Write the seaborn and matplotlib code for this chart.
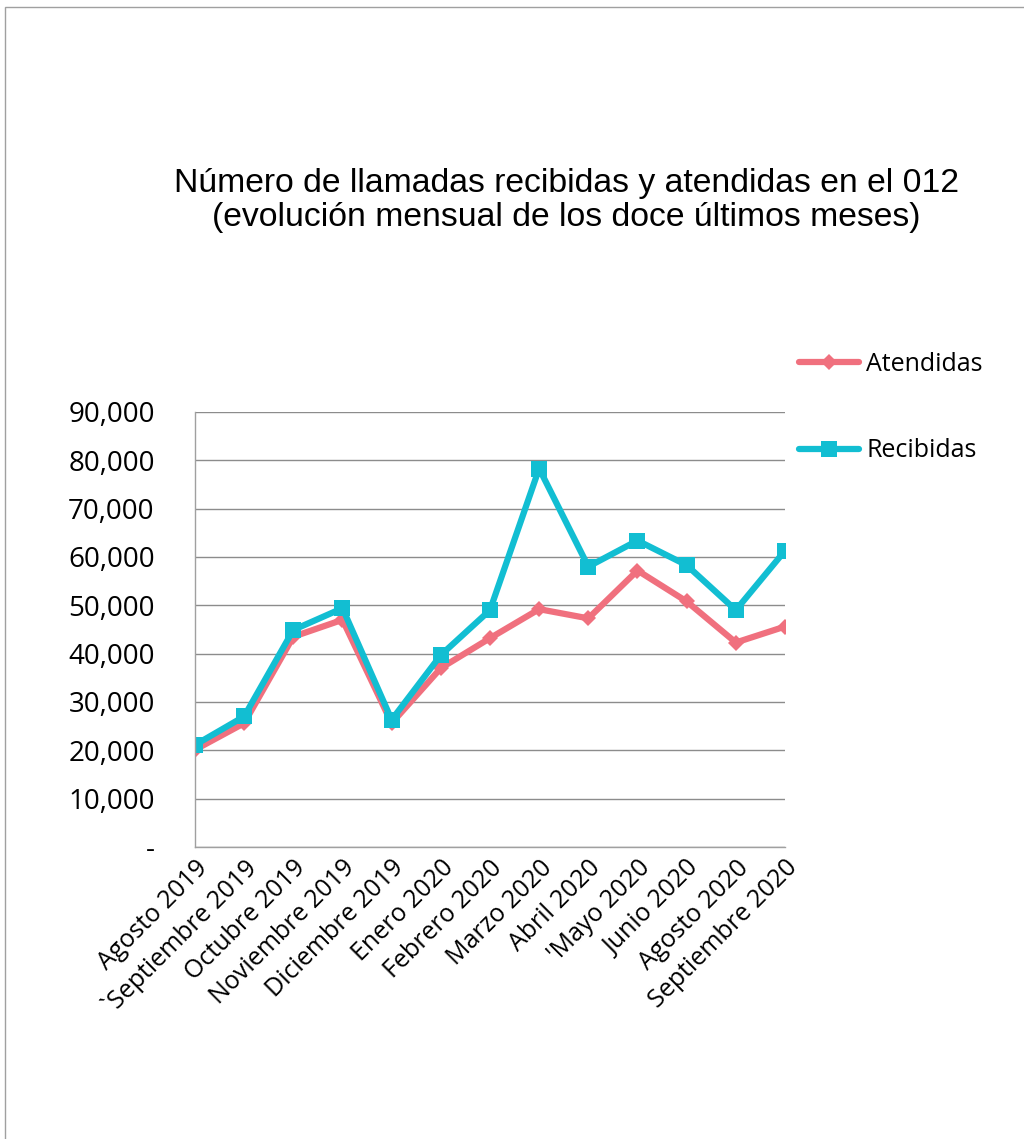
import pandas as pd
import numpy as np
import matplotlib.pyplot as plt
import seaborn as sns
from matplotlib.patches import Rectangle
from matplotlib.lines import Line2D

meses = ["Agosto 2019", "`Septiembre 2019", "Octubre 2019", "Noviembre 2019",
         "Diciembre 2019", "Enero 2020", "Febrero 2020", "Marzo 2020",
         "Abril 2020", "'Mayo 2020", "Junio 2020", "Agosto 2020", "Septiembre 2020"]
atendidas = [20100, 25600, 43500, 47000, 25600, 37000, 43200, 49200,
             47300, 57200, 50800, 42300, 45600]
recibidas = [21100, 27000, 44900, 49400, 26300, 39700, 49000, 78300,
             58000, 63400, 58300, 49000, 61300]

df = pd.DataFrame({
    "idx": list(range(len(meses))) * 2,
    "valor": atendidas + recibidas,
    "serie": ["Atendidas"] * len(meses) + ["Recibidas"] * len(meses),
})

sns.set_theme(style="white")
plt.rcParams['font.family'] = ['Open Sans', 'DejaVu Sans']
plt.rcParams['text.color'] = 'black'
plt.rcParams['xtick.color'] = 'black'
plt.rcParams['ytick.color'] = 'black'

fig = plt.figure(figsize=(10.24, 11.39), dpi=100)
ax = fig.add_axes([0.1904, 0.2564, 0.7666 - 0.1904, 0.6383 - 0.2564])

colores = {"Atendidas": "#F0707E", "Recibidas": "#12BED2"}
sns.lineplot(data=df, x="idx", y="valor", hue="serie", style="serie",
             markers={"Atendidas": "D", "Recibidas": "s"}, dashes=False,
             palette=colores, linewidth=4.5, markeredgewidth=0,
             sort=False, ax=ax, legend=False)
# diamond smaller than the square
for line, ms in zip(ax.lines, [8.5, 11.5]):
    line.set_markersize(ms)

ax.set_xlim(0, len(meses) - 1)
ax.set_ylim(0, 90000)
ax.set_yticks(np.arange(0, 90001, 10000))
ax.set_yticklabels(["-"] + [f"{v:,}" for v in range(10000, 90001, 10000)], fontsize=20)
ax.set_xticks(range(len(meses)))
ax.set_xticklabels(meses, rotation=45, ha="right", rotation_mode="anchor", fontsize=18)
ax.tick_params(axis="y", length=0, pad=29)
ax.tick_params(axis="x", length=0, pad=6)
ax.set_xlabel("")
ax.set_ylabel("")
ax.yaxis.grid(True, color="#8c8c8c", linewidth=1)
ax.xaxis.grid(False)
for s in ["top", "right"]:
    ax.spines[s].set_visible(False)
for s in ["left", "bottom"]:
    ax.spines[s].set_color("#a0a0a0")
    ax.spines[s].set_linewidth(1)

# legend
handles = [Line2D([], [], color=colores["Atendidas"], lw=4.5, marker="D", ms=8.5, mew=0),
           Line2D([], [], color=colores["Recibidas"], lw=4.5, marker="s", ms=11.5, mew=0)]
fig.legend(handles, ["Atendidas", "Recibidas"], loc="upper left",
           bbox_to_anchor=(0.758, 0.7105), frameon=False, fontsize=18,
           labelspacing=2.45, handlelength=2.4, handletextpad=0.3)

fig.text(0.553, 0.824, "Número de llamadas recibidas y atendidas en el 012\n"
         "(evolución mensual de los doce últimos meses)",
         ha="center", va="center", fontsize=24.3, family=["Liberation Sans", "DejaVu Sans"],
         linespacing=1.15)

# outer border of the chart area
fig.patches.append(Rectangle((5 / 1024, -0.1), 1.2, 1 - 7 / 1139 + 0.1,
                             transform=fig.transFigure, fill=False,
                             edgecolor="#a0a0a0", linewidth=1))

fig.savefig("out.png", dpi=100)
